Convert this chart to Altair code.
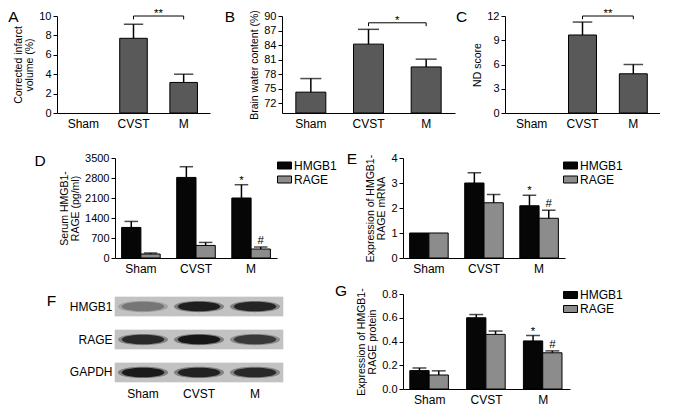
import altair as alt
import pandas as pd

FONT = "Liberation Sans"
GROUPS = ["Sham", "CVST", "M"]
SERIES = ["HMGB1", "RAGE"]

# Panel A - corrected infarct volume (%)
a_values = [0.0, 7.7, 3.15]
a_errors = [0.0, 1.45, 0.85]
# Panel B - brain water content (%)
b_values = [74.3, 84.2, 79.5]
b_errors = [2.8, 3.05, 1.6]
# Panel C - ND score
c_values = [0.0, 9.65, 4.85]
c_errors = [0.0, 1.6, 1.15]

# Panel D - serum HMGB1 / RAGE (pg/ml)
d_hmgb1 = [1070, 2820, 2100]
d_hmgb1_err = [210, 375, 465]
d_rage = [140, 440, 315]
d_rage_err = [35, 105, 70]
# Panel E - mRNA
e_hmgb1 = [1.0, 3.0, 2.09]
e_hmgb1_err = [0.0, 0.41, 0.42]
e_rage = [1.0, 2.21, 1.59]
e_rage_err = [0.0, 0.33, 0.32]
# Panel G - protein
g_hmgb1 = [0.155, 0.60, 0.405]
g_hmgb1_err = [0.022, 0.027, 0.045]
g_rage = [0.118, 0.46, 0.305]
g_rage_err = [0.035, 0.028, 0.016]

sig_hmgb1 = ["", "", "*"]
sig_rage = ["", "", "#"]

# Panel F - western blot band intensities (0 = none, 1 = strongest)
blot_rows = ["HMGB1", "RAGE", "GAPDH"]
blot_hmgb1 = [0.4, 0.92, 0.88]
blot_rage = [0.85, 0.97, 0.75]
blot_gapdh = [0.95, 0.9, 0.85]

RECT_SYMBOL = "M-1,-0.5H1V0.5H-1Z"
ELLIPSE = "M-1,0C-1,-0.3 1,-0.3 1,0C1,0.3 -1,0.3 -1,0Z"

ONE = pd.DataFrame({"k": [0]})

XLAB = 12
LEG = 12


def letter_layer(letter, lx, ly):
    return alt.Chart(ONE).mark_text(
        text=letter, fontSize=15.5, align="center", baseline="alphabetic", font=FONT, color="black"
    ).encode(x=alt.value(lx), y=alt.value(ly))


def spacer(w, h, y1=0, y2=1):
    return alt.Chart(ONE).mark_rule(opacity=0, strokeWidth=1).encode(
        x=alt.value(0), y=alt.value(y1), y2=alt.value(y2)).properties(width=w, height=h)


def y_axis(title, ticks, fmt=None):
    kw = dict(title=title, values=ticks, titleLineHeight=11.5, titlePadding=4)
    if fmt is not None:
        kw["format"] = fmt
    return alt.Axis(**kw)


def simple_panel(values, errors, domain, ticks, title, bracket_y, drop, stars,
                 letter, letter_xy, width, height, pin, pout):
    base_val = domain[0]
    df = pd.DataFrame({
        "group": GROUPS,
        "value": values,
        "upper": [v + e for v, e in zip(values, errors)],
        "base": [base_val] * len(GROUPS),
    })
    xscale = alt.Scale(domain=GROUPS, paddingInner=pin, paddingOuter=pout)
    yscale = alt.Scale(domain=domain, nice=False, zero=False)
    xaxis = alt.Axis(title=None, ticks=False, labelAngle=0, labelPadding=5, labelFontSize=XLAB)
    yaxis = y_axis(title, ticks)
    step = width / (len(GROUPS) - pin + 2 * pout)
    bw = step * (1 - pin)

    def X(f, **kw):
        return alt.X(f, scale=xscale, axis=xaxis, **kw)

    def Y(f):
        return alt.Y(f, scale=yscale, axis=yaxis)

    base = alt.Chart(df)
    bars = base.transform_filter("datum.value > datum.base").mark_bar(
        fill="#595959", stroke="black", strokeWidth=1
    ).encode(x=X("group:N"), y=Y("value:Q"), y2="base:Q")
    errs = base.transform_filter("datum.upper > datum.value").mark_rule(
        color="black", strokeWidth=1.5
    ).encode(x=X("group:N"), y=Y("value:Q"), y2="upper:Q")
    caps = base.transform_filter("datum.upper > datum.value").mark_tick(
        color="black", thickness=1.5, size=bw * 0.7, orient="horizontal"
    ).encode(x=X("group:N"), y=Y("upper:Q"))

    bdf = pd.DataFrame({"a": ["CVST"], "b": ["M"], "y": [bracket_y],
                        "low": [bracket_y - drop], "stars": [stars]})
    bb = alt.Chart(bdf)
    hline = bb.mark_rule(color="black", strokeWidth=1).encode(
        x=X("a:N", bandPosition=0.5), x2=alt.X2("b:N", bandPosition=0.5), y=Y("y:Q"))
    d1 = bb.mark_rule(color="black", strokeWidth=1).encode(x=X("a:N"), y=Y("y:Q"), y2="low:Q")
    d2 = bb.mark_rule(color="black", strokeWidth=1).encode(x=X("b:N"), y=Y("y:Q"), y2="low:Q")
    st = bb.mark_text(dx=step / 2, dy=1, baseline="alphabetic", fontSize=11.5, font=FONT,
                      color="black").encode(x=X("a:N"), y=Y("y:Q"), text="stars:N")
    layers = [bars, errs, caps, hline, d1, d2, st, letter_layer(letter, *letter_xy)]
    return alt.layer(*layers).properties(width=width, height=height)


def grouped_panel(h, herr, r, rerr, domain, ticks, title, letter, letter_xy,
                  width, height, legend_xy, fmt=None):
    rows = []
    for i, g in enumerate(GROUPS):
        rows.append(dict(group=g, series="HMGB1", value=h[i], upper=h[i] + herr[i], sig=sig_hmgb1[i]))
        rows.append(dict(group=g, series="RAGE", value=r[i], upper=r[i] + rerr[i], sig=sig_rage[i]))
    df = pd.DataFrame(rows)
    pin, pout = 0.3, 0.12
    step = width / (len(GROUPS) - pin + 2 * pout)
    barw = step * (1 - pin) / 2
    xscale = alt.Scale(domain=GROUPS, paddingInner=pin, paddingOuter=pout)
    oscale = alt.Scale(domain=SERIES, paddingInner=0, paddingOuter=0)
    yscale = alt.Scale(domain=domain, nice=False)
    xaxis = alt.Axis(title=None, ticks=False, labelAngle=0, labelPadding=5, labelFontSize=XLAB)
    yaxis = y_axis(title, ticks, fmt)
    X = alt.X("group:N", scale=xscale, axis=xaxis)
    XO = alt.XOffset("series:N", scale=oscale)

    def Y(f):
        return alt.Y(f, scale=yscale, axis=yaxis)

    color = alt.Color("series:N", scale=alt.Scale(domain=SERIES, range=["#060606", "#8c8c8c"]),
                      legend=alt.Legend(title=None, orient="none", legendX=legend_xy[0],
                                        legendY=legend_xy[1], symbolType=RECT_SYMBOL,
                                        symbolSize=196, symbolStrokeColor="black",
                                        symbolStrokeWidth=1, labelFontSize=LEG,
                                        labelFont=FONT, labelColor="black", rowPadding=0,
                                        labelOffset=2))
    base = alt.Chart(df)
    bars = base.mark_bar(stroke="black", strokeWidth=1).encode(
        x=X, xOffset=XO, y=Y("value:Q"), color=color)
    errs = base.transform_filter("datum.upper > datum.value").mark_rule(
        color="black", strokeWidth=1.5).encode(x=X, xOffset=XO, y=Y("value:Q"), y2="upper:Q")
    caps = base.transform_filter("datum.upper > datum.value").mark_tick(
        color="black", thickness=1.5, size=barw * 0.7, orient="horizontal"
    ).encode(x=X, xOffset=XO, y=Y("upper:Q"))
    star = base.transform_filter("datum.sig == '*'").mark_text(
        dy=-1, fontSize=11.5, baseline="alphabetic", font=FONT, color="black"
    ).encode(x=X, xOffset=XO, y=Y("upper:Q"), text="sig:N")
    hashm = base.transform_filter("datum.sig == '#'").mark_text(
        dy=-3, fontSize=11.5, baseline="alphabetic", font=FONT, color="black"
    ).encode(x=X, xOffset=XO, y=Y("upper:Q"), text="sig:N")
    layers = [bars, errs, caps, star, hashm, letter_layer(letter, *letter_xy)]
    return alt.layer(*layers).properties(width=width, height=height)


def blot_panel(width, height):
    rows = []
    for p, vals in zip(blot_rows, [blot_hmgb1, blot_rage, blot_gapdh]):
        for g, v in zip(GROUPS, vals):
            rows.append(dict(protein=p, lane=g, intensity=v))
    df = pd.DataFrame(rows)
    X = alt.X("lane:N", scale=alt.Scale(domain=GROUPS, paddingInner=0, paddingOuter=0),
              axis=alt.Axis(title=None, domain=False, ticks=False, labelAngle=0,
                            labelPadding=3, labelFontSize=XLAB))
    Y = alt.Y("protein:N", scale=alt.Scale(domain=blot_rows, paddingInner=0.42, paddingOuter=0.09),
              axis=alt.Axis(title=None, domain=False, ticks=False, labelPadding=3,
                            labelFontSize=XLAB))
    C = alt.Color("intensity:Q", scale=alt.Scale(domain=[0, 1], range=["#c4c4c4", "#121212"]),
                  legend=None)
    base = alt.Chart(df)
    strip = base.mark_rect(fill="#c2c2c2", stroke="#c2c2c2", strokeWidth=0.6).encode(x=X, y=Y)
    halo = base.mark_point(shape=ELLIPSE, filled=True, size=2500, opacity=0.4,
                           strokeWidth=0).encode(x=X, y=Y, color=C)
    core = base.mark_point(shape=ELLIPSE, filled=True, size=1800, opacity=1,
                           strokeWidth=0).encode(x=X, y=Y, color=C)
    layers = [strip, halo, core, letter_layer("F", -63.5, 12)]
    return alt.layer(*layers).properties(width=width, height=height)


panel_a = simple_panel(a_values, a_errors, [0, 10], [0, 2, 4, 6, 8, 10],
                       ["Corrected infarct", "volume (%)"], 10, 0.35, "**",
                       "A", (-43.5, 6), 153, 97, 0.45, 0.25)
panel_b = simple_panel(b_values, b_errors, [70, 90], [72, 75, 78, 81, 84, 87, 90],
                       "Brain water content (%)", 88.6, 0.7, "*",
                       "B", (-52, 6), 173, 97, 0.48, 0.24)
panel_c = simple_panel(c_values, c_errors, [0, 12], [0, 3, 6, 9, 12],
                       "ND score", 12, 0.4, "**",
                       "C", (-43.5, 6), 155, 97, 0.45, 0.25)

panel_d = grouped_panel(d_hmgb1, d_hmgb1_err, d_rage, d_rage_err, [0, 3500],
                        [0, 700, 1400, 2100, 2800, 3500], ["Serum HMGB1-", "RAGE (pg/ml)"],
                        "D", (-75, 8), 162, 100, (162, 0), fmt="d")
panel_e = grouped_panel(e_hmgb1, e_hmgb1_err, e_rage, e_rage_err, [0, 4],
                        [0, 1, 2, 3, 4], ["Expression of HMGB1-", "RAGE mRNA"],
                        "E", (-51, 6), 162, 100, (160, 0), fmt="d")
panel_g = grouped_panel(g_hmgb1, g_hmgb1_err, g_rage, g_rage_err, [0, 0.8],
                        [0.0, 0.2, 0.4, 0.6, 0.8], ["Expression of HMGB1-", "RAGE protein"],
                        "G", (-62, 2), 167, 95, (160, -6.5), fmt=".1f")
panel_f = blot_panel(168, 91)

row1 = alt.hconcat(spacer(25, 97, -8, 125), panel_a, spacer(24, 97), panel_b,
                   spacer(2, 97), panel_c, spacing=24, bounds="flush")
row2 = alt.hconcat(spacer(57, 100, -17, 121), panel_d, spacer(26, 100), panel_e,
                   spacing=50, bounds="flush").resolve_scale(color="independent")
row3 = alt.hconcat(spacer(57, 91, -15, 10), panel_f, spacer(20, 91), panel_g,
                   spacing=50, bounds="flush").resolve_scale(color="independent")

chart = alt.vconcat(row1, row2, row3, spacing=0).resolve_scale(
    color="independent"
).properties(padding=0).configure_axis(
    labelFont=FONT, titleFont=FONT, labelFontSize=11, titleFontSize=10.5,
    titleFontWeight="normal", labelColor="black", titleColor="black",
    domainColor="black", tickColor="black", tickSize=4, grid=False, labelPadding=2,
    domainWidth=1, tickWidth=1
).configure_view(stroke=None).configure_legend(labelFont=FONT)

chart.save("out.html", embed_options={"renderer": "svg", "actions": False})
